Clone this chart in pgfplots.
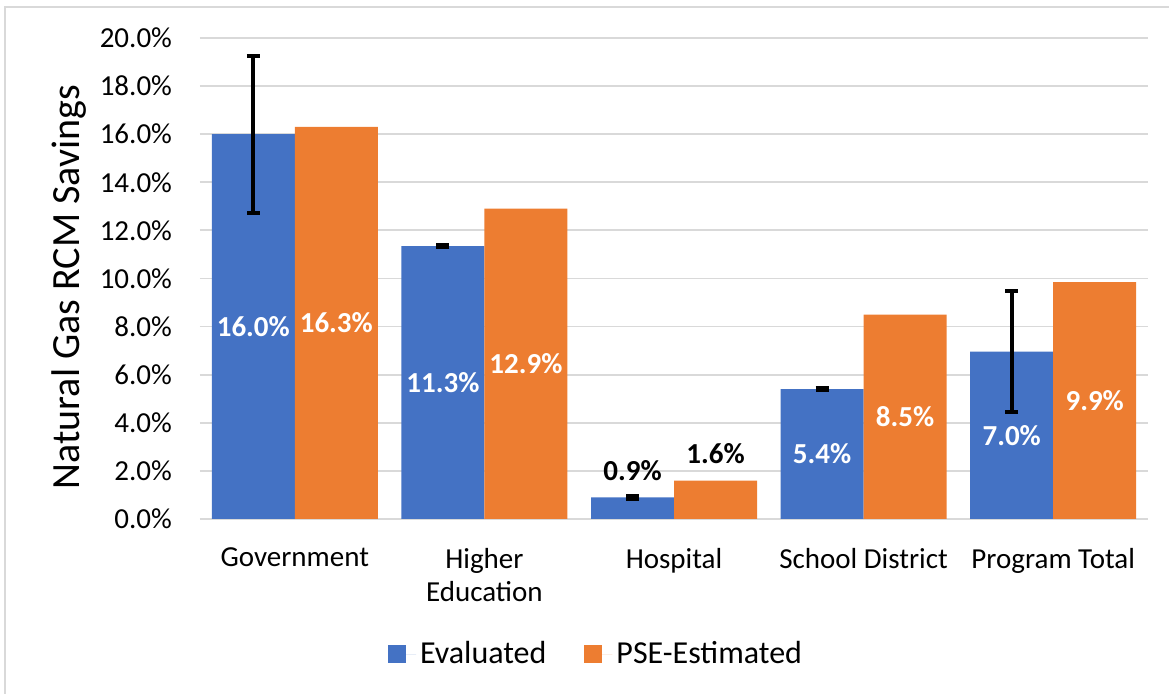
\documentclass[border=0pt]{standalone}
\usepackage{fontspec}
\setmainfont{Carlito}
\usepackage{pgfplots}
\usepackage{pgfplotstable}
\pgfplotsset{compat=1.18}

\definecolor{evalblue}{HTML}{4472C4}
\definecolor{pseorange}{HTML}{ED7D31}
\definecolor{gridgray}{HTML}{D9D9D9}

% off = label offset in axis units (negative: centred in bar), w = 100 white / 0 black
\pgfplotstableread{
x y ey lbl off w
0 16.0 3.26 16.0 -8.0 100
1 11.35 0.05 11.3 -5.675 100
2 0.9 0.05 0.9 1.12 0
3 5.4 0.05 5.4 -2.7 100
4 6.96 2.53 7.0 -3.48 100
}\evaluated

\pgfplotstableread{
x y lbl off w
0 16.3 16.3 -8.15 100
1 12.9 12.9 -6.45 100
2 1.6 1.6 1.12 0
3 8.5 8.5 -4.25 100
4 9.85 9.9 -4.925 100
}\estimated

\begin{document}
\begin{tikzpicture}
\useasboundingbox (0,0) rectangle (584.5pt,347pt);
\draw[gridgray, line width=1pt] (2.5pt,0) -- (2.5pt,343.5pt) -- (584.5pt,343.5pt);
\begin{axis}[
  at={(100pt,87.5pt)}, anchor=south west,
  scale only axis, width=474pt, height=240.5pt,
  ybar=0pt, bar width=41.5pt,
  xmin=-0.5, xmax=4.5, ymin=0, ymax=20,
  axis x line*=bottom, axis y line*=left,
  x axis line style={draw=gridgray, line width=0.9pt},
  y axis line style={draw=none},
  major tick length=0pt,
  ymajorgrids, grid style={draw=gridgray, line width=0.9pt},
  ytick={0,2,...,20},
  yticklabel={\pgfmathprintnumber[fixed,fixed zerofill,precision=1]{\tick}\%},
  /pgf/number format/assume math mode=true,
  yticklabel style={font=\fontsize{14.5}{17}\selectfont, xshift=-10.5pt},
  xtick={0,1,2,3,4},
  xticklabels={Government,{Higher\\Education},Hospital,School District,Program Total},
  xticklabel style={font=\fontsize{14.5}{16.5}\selectfont, align=center, yshift=-11pt},
  ylabel={Natural Gas RCM Savings},
  ylabel style={font=\fontsize{20}{24}\selectfont, at={(rel axis cs:-0.127,0.482)}, anchor=base},
  legend columns=2,
  legend style={at={(rel axis cs:0.4188,-0.2807)}, anchor=center, draw=none,
    font=\fontsize{16}{19}\selectfont,
    /tikz/every even column/.append style={column sep=17pt}},
  legend image code/.code={\fill[#1] (0pt,-4.5pt) rectangle (9pt,4.5pt);
    \path (0pt,0pt) -- (14pt,0pt);},
  nodes near coords={\pgfplotspointmeta\%},
  point meta=explicit symbolic,
  visualization depends on={\thisrow{off} \as \lbloff},
  visualization depends on={\thisrow{w} \as \lblw},
  every node near coord/.append style={anchor=center, yshift=\lbloff*12.025pt,
    text=white!\lblw!black, font=\bfseries\fontsize{14.5}{17}\selectfont},
]
\addplot[fill=evalblue, draw=none, bar shift=-20.75pt,
  error bars/.cd, y dir=both, y explicit,
  error bar style={black, line width=2pt},
  error mark options={black, line width=2pt, mark size=3.25pt, rotate=90}]
  table[x=x, y=y, y error=ey, meta=lbl]{\evaluated};
\addplot[fill=pseorange, draw=none, bar shift=20.75pt]
  table[x=x, y=y, meta=lbl]{\estimated};
\legend{Evaluated, PSE-Estimated}
\end{axis}
\end{tikzpicture}
\end{document}
